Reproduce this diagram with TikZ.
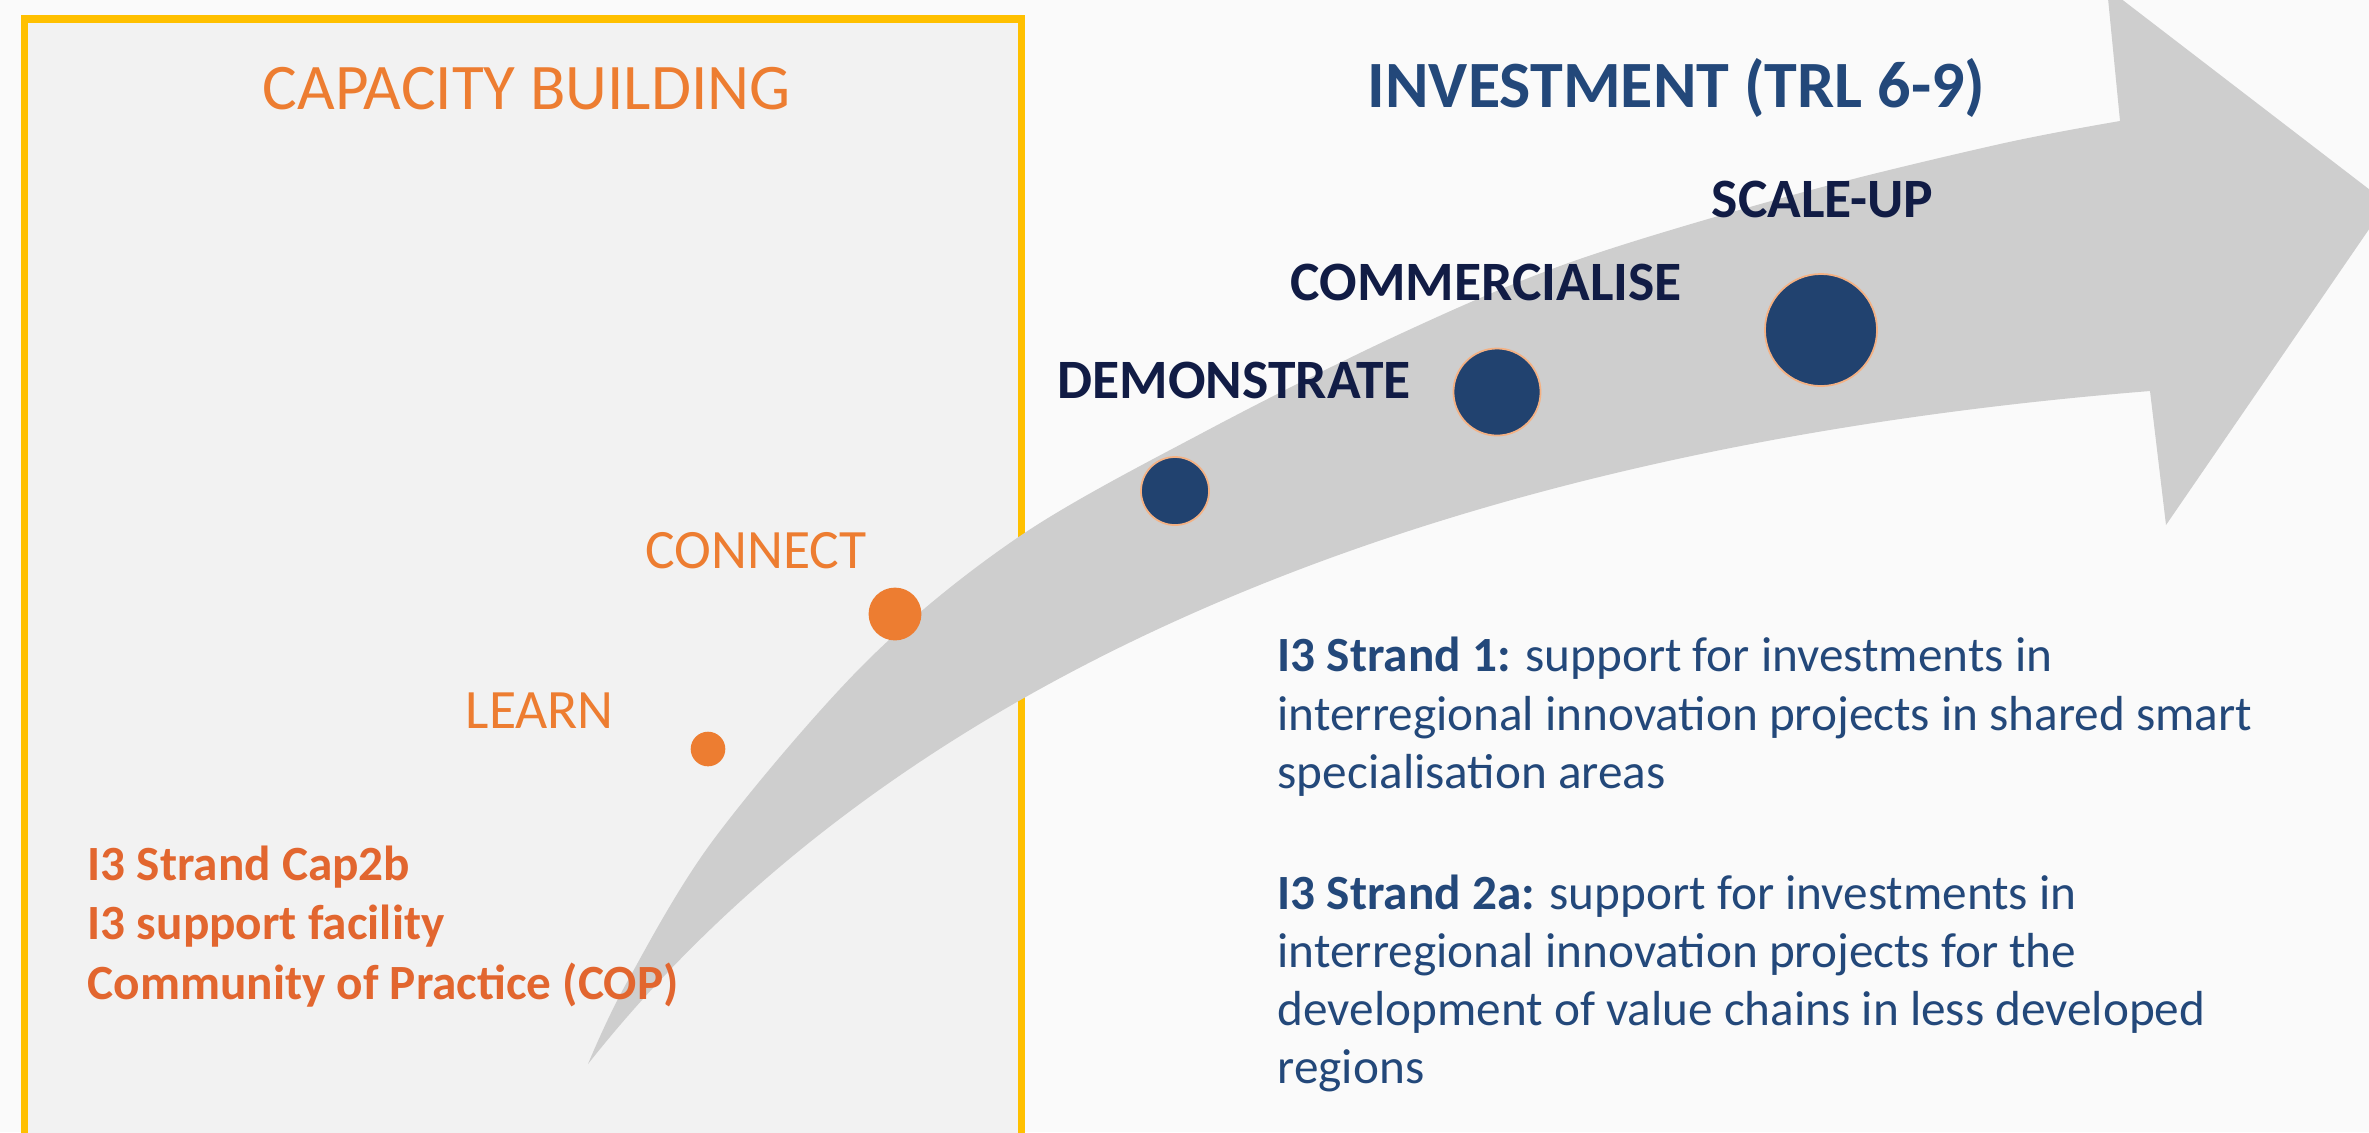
\documentclass[tikz,border=0pt]{standalone}
\usepackage{fontspec}
\setmainfont{Carlito}
\definecolor{bgc}{HTML}{FAFAFA}
\definecolor{boxfill}{HTML}{F2F2F2}
\definecolor{boxline}{HTML}{FFC000}
\definecolor{arrowc}{HTML}{CECECE}
\definecolor{orangec}{HTML}{ED7D31}
\definecolor{orangeb}{HTML}{E2662F}
\definecolor{navyc}{HTML}{23487A}
\definecolor{darknavy}{HTML}{111C45}
\definecolor{dotnavy}{HTML}{21426F}
\definecolor{dotrim}{HTML}{F4B183}
\begin{document}
\begin{tikzpicture}[x=0.01cm,y=-0.01cm,
  lbl/.style={inner sep=0pt, anchor=base west},
  titleo/.style={lbl, text=orangec, font=\fontsize{18.5}{22}\selectfont},
  titlen/.style={lbl, text=navyc, font=\fontsize{18.8}{22}\bfseries\selectfont},
  stage/.style={lbl, text=darknavy, font=\fontsize{15.8}{19}\bfseries\selectfont},
  stageo/.style={lbl, text=orangec, font=\fontsize{15.8}{19}\selectfont},
  capline/.style={lbl, text=orangeb, font=\fontsize{14}{17}\bfseries\selectfont},
  bodyline/.style={lbl, text=navyc, font=\fontsize{14}{17}\selectfont},
  odot/.style={circle, inner sep=0pt, fill=orangec},
  ndot/.style={circle, inner sep=0pt, fill=dotnavy, draw=dotrim, line width=0.5pt}]
\useasboundingbox (0,0) rectangle (2369,1132);
\clip (0,0) rectangle (2369,1132);
\fill[bgc] (0,0) rectangle (2369,1132);
% capacity building box
\draw[boxline, line width=2pt, fill=boxfill] (24.5,1200) -- (24.5,19) -- (1021.5,19) -- (1021.5,1200);
% arrow
\coordinate (tail) at (588,1064);
\coordinate (notchup) at (2120,121);
\coordinate (headtop) at (2107,-12);
\coordinate (tip) at (2387,203);
\coordinate (headbot) at (2166,525);
\coordinate (notchlow) at (2150,391);
\fill[arrowc] plot[smooth, tension=0.55] coordinates {(588,1064) (626,984) (714,839) (867,661) (1020,536) (1206,431) (1400,334) (1574,261) (1800,193) (2000,144) (2120,121)}
  -- (headtop) -- (tip) -- (headbot) -- (notchlow)
  .. controls (1404,451) and (883,691) .. (tail) -- cycle;
% dots
\node[odot, minimum size=0.346cm] (learndot) at (708,749) {};
\node[odot, minimum size=0.528cm] (connectdot) at (895,614) {};
\node[ndot, minimum size=0.68cm] (demodot) at (1175,491) {};
\node[ndot, minimum size=0.87cm] (commdot) at (1497,392) {};
\node[ndot, minimum size=1.12cm] (scaledot) at (1821,330) {};
% titles
\node[titleo] (captitle) at (262,109) {CAPACITY BUILDING};
\node[titlen] (invtitle) at (1367,107) {INVESTMENT (TRL 6-9)};
% stages
\node[stage] (scale) at (1711,217) {SCALE-UP};
\node[stage] (comm) at (1290,300.5) {COMMERCIALISE};
\node[stage] (demo) at (1057,398.5) {DEMONSTRATE};
\node[stageo] (connect) at (645,568.5) {CONNECT};
\node[stageo] (learn) at (465,728) {LEARN};
% capacity lines
\node[capline] (cap1) at (87,880) {I3 Strand Cap2b};
\node[capline] (cap2) at (87,939) {I3 support facility};
\node[capline] (cap3) at (87,999) {Community of Practice (COP)};
% body text
\node[bodyline] (s1a) at (1277,671) {\textbf{I3 Strand 1:} support for investments in};
\node[bodyline] (s1b) at (1277,730) {interregional innovation projects in shared smart};
\node[bodyline] (s1c) at (1277,788) {specialisation areas};
\node[bodyline] (s2a) at (1277,909) {\textbf{I3 Strand 2a:} support for investments in};
\node[bodyline] (s2b) at (1277,967) {interregional innovation projects for the};
\node[bodyline] (s2c) at (1277,1025) {development of value chains in less developed};
\node[bodyline] (s2d) at (1277,1083) {regions};
\end{tikzpicture}
\end{document}
